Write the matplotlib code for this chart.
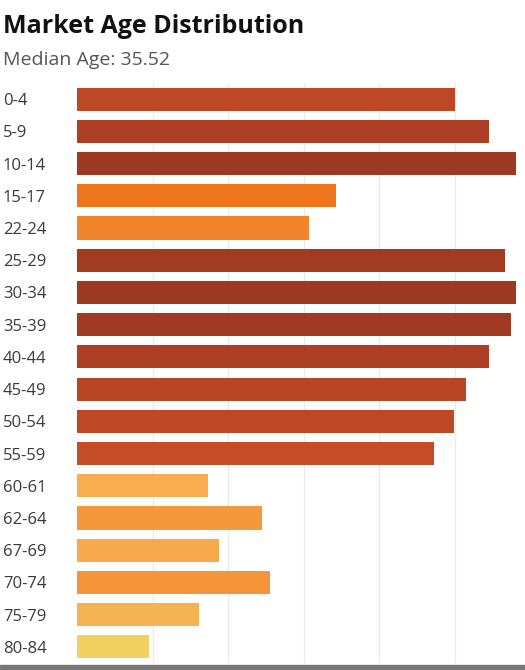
import matplotlib.pyplot as plt
from matplotlib.colors import LinearSegmentedColormap, Normalize
from matplotlib.patches import Rectangle

# Grupos de edad y poblacion (en miles)
age_groups = ["0-4", "5-9", "10-14", "15-17", "22-24", "25-29", "30-34", "35-39",
              "40-44", "45-49", "50-54", "55-59", "60-61", "62-64", "67-69",
              "70-74", "75-79", "80-84"]
population = [5010, 5460, 5810, 3430, 3070, 5670, 5810, 5750,
              5460, 5150, 4990, 4730, 1740, 2450, 1880, 2550, 1610, 950]

title = "Market Age Distribution"
subtitle = "Median Age: 35.52"

# Escala de color secuencial (amarillo -> naranja -> rojo oscuro)
vmin, vmax = 950, 5810
stops = [(950, "#F2D060"), (1700, "#F8AE50"), (2500, "#F5963A"), (3100, "#F2842A"),
         (3450, "#EF741C"), (4700, "#C64E25"), (5000, "#BE4826"), (5810, "#9E3923")]
cmap = LinearSegmentedColormap.from_list(
    "age", [((v - vmin) / (vmax - vmin), c) for v, c in stops])
norm = Normalize(vmin, vmax)

plt.rcParams['font.family'] = ['Open Sans', 'DejaVu Sans']

fig = plt.figure(figsize=(5.25, 6.7), dpi=100)
ax = fig.add_axes([77 / 525, 7 / 670, 1 - 77 / 525, 580 / 670])

y = range(len(age_groups))
ax.barh(y, population, height=0.72, color=cmap(norm(population)), zorder=2)

ax.set_ylim(len(age_groups) - 0.5, -0.5)
ax.set_xlim(0, 5930)
ax.set_xticks([1000, 2000, 3000, 4000, 5000])
ax.grid(axis="x", color="#EBEBEB", linewidth=1, zorder=0)
ax.tick_params(axis="x", length=0, labelbottom=False)
ax.tick_params(axis="y", length=0, pad=0)
ax.set_yticks(list(y))
ax.set_yticklabels(age_groups, fontsize=12, color="#3A3A3A")
for lbl in ax.get_yticklabels():
    lbl.set_horizontalalignment("left")
    lbl.set_x(-74 / 448)
for s in ax.spines.values():
    s.set_visible(False)

fig.text(3 / 525, 1 - 33 / 670, title, fontsize=18, fontweight="bold",
         color="#111111", ha="left", va="baseline")
fig.text(3 / 525, 1 - 65 / 670, subtitle, fontsize=14, color="#555555",
         ha="left", va="baseline")

# franja gris inferior (borde de la captura)
fig.add_artist(Rectangle((0, 0), 1, 5 / 670, transform=fig.transFigure,
                         color="#777777", zorder=5))

fig.savefig("out.png", dpi=100)
